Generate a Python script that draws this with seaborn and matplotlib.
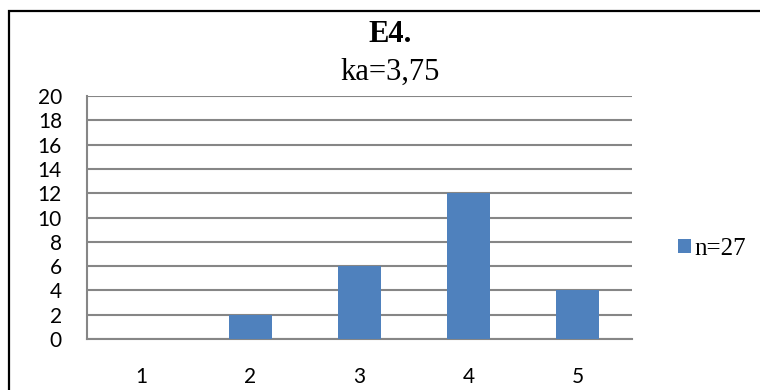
import matplotlib
matplotlib.use("Agg")
import matplotlib.pyplot as plt
from matplotlib.patches import Rectangle, Patch
import seaborn as sns
import pandas as pd

categories = ["1", "2", "3", "4", "5"]
counts = [0, 2, 6, 12, 4]
y_ticks = list(range(0, 21, 2))
title = "E4."
subtitle = "ka=3,75"
series_label = "n=27"

bar_color = "#4F81BD"
grid_color = "#868686"

sns.set_theme(style="white")
plt.rcParams["font.family"] = ["Lato", "DejaVu Sans"]
plt.rcParams["text.color"] = "black"

df = pd.DataFrame({"cat": categories, "count": counts})

fig = plt.figure(figsize=(7.6, 3.9), dpi=100)
ax = fig.add_axes([87 / 760, 1 - 339 / 390, 545 / 760, 243 / 390])

sns.barplot(data=df, x="cat", y="count", color=bar_color, width=0.4,
            saturation=1, linewidth=0, edgecolor="none", ax=ax, zorder=3)

ax.set_ylim(0, 20)
ax.set_xlim(-0.5, 4.5)
ax.set_yticks(y_ticks)
ax.set_yticklabels([str(t) for t in y_ticks], fontsize=15, color="black")
ax.set_xticklabels(categories, fontsize=15, color="black")
ax.set_xlabel("")
ax.set_ylabel("")
ax.tick_params(axis="both", length=0)
ax.tick_params(axis="y", pad=18)
ax.tick_params(axis="x", pad=20)

ax.yaxis.grid(True, color=grid_color, linewidth=1.5, zorder=0)
ax.set_axisbelow(True)
for side in ["top", "right"]:
    ax.spines[side].set_visible(False)
for side in ["left", "bottom"]:
    ax.spines[side].set_color(grid_color)
    ax.spines[side].set_linewidth(1.5)

# Chart title and subtitle
fig.text(390 / 760, 1 - 34 / 390, title, ha="center", va="center",
         fontsize=22, fontweight="bold", color="black",
         family=["Liberation Serif"])
fig.text(390 / 760, 1 - 72 / 390, subtitle, ha="center", va="center",
         fontsize=22, color="black", family=["Liberation Serif"])

# Legend on the right
leg = fig.legend(handles=[Patch(facecolor=bar_color, edgecolor="none")],
                 labels=[series_label], loc="center left",
                 bbox_to_anchor=(678 / 760, 1 - 249 / 390), frameon=False,
                 prop={"family": "Liberation Serif", "size": 18},
                 handlelength=0.5, handleheight=0.5, handletextpad=0.15,
                 borderpad=0, borderaxespad=0)
for t in leg.get_texts():
    t.set_color("black")

# Outer chart frame
fig.patches.append(Rectangle((9 / 760, -0.1), 1.1, 1 - 11 / 390 + 0.1,
                             transform=fig.transFigure, fill=False,
                             edgecolor="black", linewidth=1.6))

fig.savefig("out.png", dpi=100, facecolor="white")
